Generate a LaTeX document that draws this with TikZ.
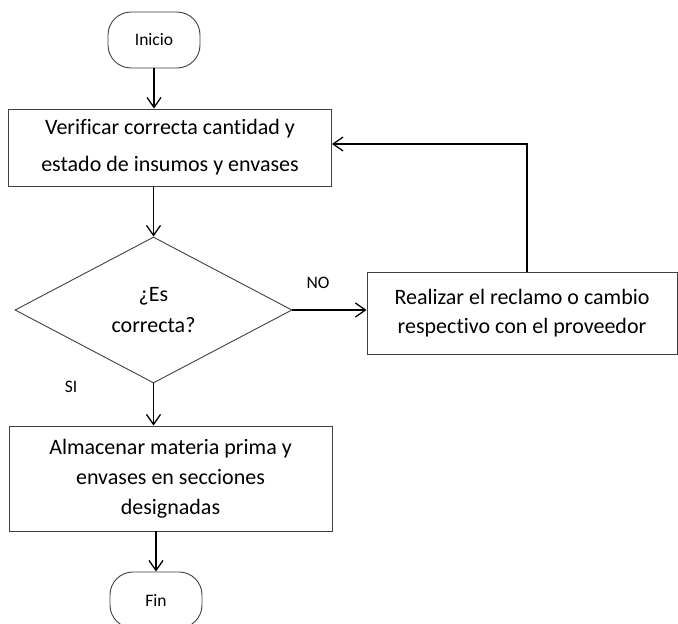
\documentclass[tikz,border=0pt]{standalone}
\usepackage{fontspec}
\setmainfont{Carlito}[Ligatures=NoCommon]
\usetikzlibrary{arrows.meta,shapes.geometric}
\begin{document}
\begin{tikzpicture}[x=1pt,y=-1pt,
  outline/.style={draw=black!75, line width=0.9pt},
  box/.style={outline, inner sep=0pt, align=center, minimum width=323pt},
  term/.style={outline, rounded corners=23pt, minimum width=92pt, minimum height=56pt,
    inner sep=0pt, font=\fontsize{17.5}{20}\selectfont},
  decision/.style={diamond, outline, minimum width=277pt, minimum height=146pt,
    inner sep=0pt, align=center, font=\fontsize{22}{31}\selectfont},
  arr/.style={draw=black, line width=1.3pt, -{Straight Barb[length=10pt,width=14pt]}},
  lbl/.style={font=\fontsize{17.5}{20}\selectfont, inner sep=0pt}
]
\useasboundingbox (0,0) rectangle (678,624);

% terminators
\node[term] (inicio) at (154,40) {Inicio};
\node[term] (fin) at (156,600) {Fin};

% process steps
\node[box, minimum height=77pt, font=\fontsize{22}{37}\selectfont] (verif) at (170,147.5)
  {Verificar correcta cantidad y\\estado de insumos y envases};
\node[decision] (dec) at (153.5,310) {¿Es\\correcta?};
\node[outline, inner sep=0pt, align=center, minimum width=310pt, minimum height=82pt,
  font=\fontsize{22}{29}\selectfont] (reclamo) at (522,313)
  {Realizar el reclamo o cambio\\respectivo con el proveedor};
\node[box, minimum height=105pt, font=\fontsize{22}{30}\selectfont] (alm) at (170.5,478.5)
  {Almacenar materia prima y\\envases en secciones\\designadas};

% branch labels
\node[lbl] (no) at (318,283) {NO};
\node[lbl] (si) at (71,387) {SI};

% connectors
\draw[arr] (inicio.south) -- (inicio.south |- verif.north);
\draw[arr] (verif.south -| dec.north) -- (dec.north);
\draw[arr] (dec.east) -- (dec.east -| reclamo.west);
\draw[arr] ([xshift=5pt]reclamo.north) |- ([yshift=3.5pt]verif.east);
\draw[arr] (dec.south) -- (dec.south |- alm.north);
\draw[arr] (alm.south -| fin.north) -- (fin.north);
\end{tikzpicture}
\end{document}
